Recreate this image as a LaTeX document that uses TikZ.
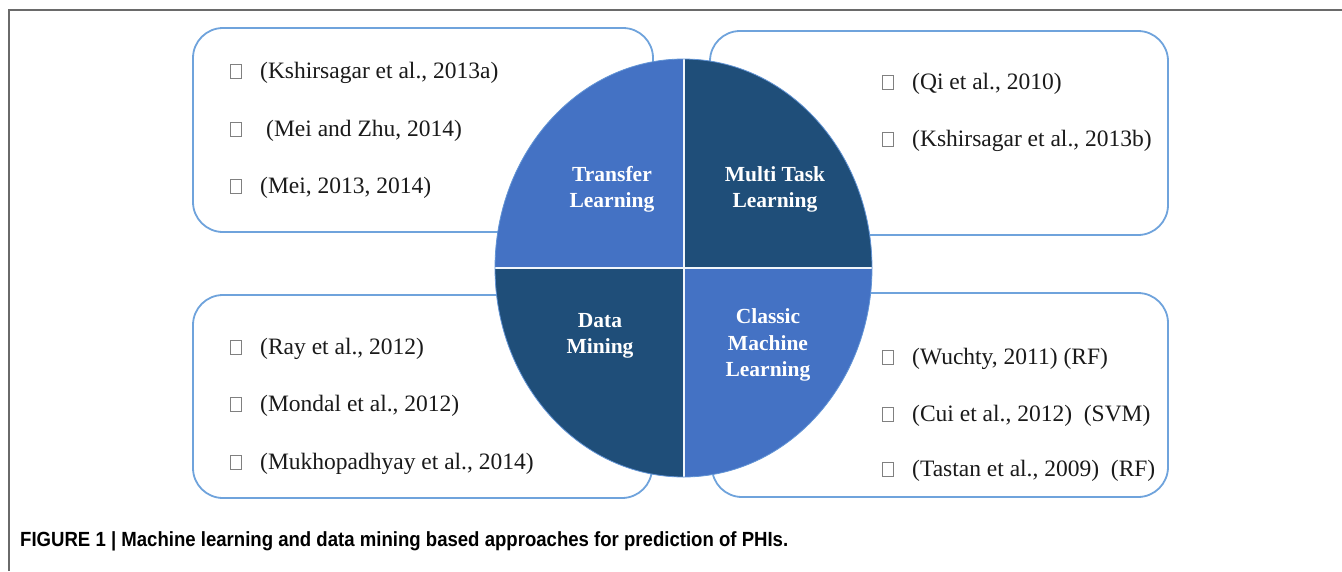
\documentclass[tikz,border=0pt]{standalone}
\usepackage{fontspec}
\usepackage{graphicx}
\setmainfont{Liberation Serif}
\newfontfamily\capfont{Liberation Sans}
\definecolor{boxline}{HTML}{6FA3DC}
\definecolor{lightq}{HTML}{4472C4}
\definecolor{darkq}{HTML}{1F4E79}
\definecolor{framegray}{HTML}{6A6A6A}
\definecolor{bulletgray}{HTML}{808080}
\definecolor{reftext}{HTML}{1A1A1A}
\begin{document}
\begin{tikzpicture}[x=1pt,y=-1pt,
  refbox/.style={draw=boxline,line width=1.8pt,fill=white,rounded corners=30pt,
    inner sep=0pt,outer sep=0pt},
  bulletbox/.style={draw=bulletgray,line width=0.8pt,minimum width=11pt,
    minimum height=14pt,inner sep=0pt},
  reftxt/.style={anchor=west,inner sep=0pt,text=reftext,
    font=\fontsize{23.5}{28}\selectfont},
  quadlbl/.style={align=center,text=white,inner sep=0pt,
    font=\fontsize{21.5}{26.5}\selectfont\bfseries},
]
\useasboundingbox (0,0) rectangle (1342,571);

% outer frame (top and left edges)
\draw[framegray,line width=1.4pt] (9,571) -- (9,10) -- (1342,10);

% reference boxes
\node[refbox,minimum width=460pt,minimum height=204pt] (boxTL) at (423,130) {};
\node[refbox,minimum width=458pt,minimum height=204pt] (boxTR) at (939,133) {};
\node[refbox,minimum width=459pt,minimum height=203pt] (boxBL) at (422.5,396.5) {};
\node[refbox,minimum width=456pt,minimum height=204pt] (boxBR) at (940,395) {};

% four-quadrant ellipse
\begin{scope}
  \clip (683.5,268) ellipse [x radius=188.5pt, y radius=209pt];
  \fill[lightq] (490,50) rectangle (683.5,268);
  \fill[darkq] (683.5,50) rectangle (880,268);
  \fill[darkq] (490,268) rectangle (683.5,490);
  \fill[lightq] (683.5,268) rectangle (880,490);
  \draw[white!90!boxline,line width=2pt] (683.5,50) -- (683.5,490);
  \draw[white!90!boxline,line width=2pt] (490,268) -- (880,268);
\end{scope}
\draw[boxline!70!lightq,line width=0.8pt] (683.5,268) ellipse [x radius=188.5pt, y radius=209pt];

% quadrant labels
\node[quadlbl] (qTL) at (612,189.5) {Transfer\\Learning};
\node[quadlbl] (qTR) at (775,189.5) {Multi Task\\Learning};
\node[quadlbl] (qBL) at (600,336) {Data\\Mining};
\node[quadlbl] (qBR) at (768,345) {Classic\\Machine\\Learning};

% top-left references
\node[bulletbox] (bTL1) at (236,71) {};
\node[bulletbox] (bTL2) at (236,129) {};
\node[bulletbox] (bTL3) at (236,186) {};
\node[reftxt] (tTL1) at (260,73) {(Kshirsagar et al., 2013a)};
\node[reftxt] (tTL2) at (266,131) {(Mei and Zhu, 2014)};
\node[reftxt] (tTL3) at (260,188) {(Mei, 2013, 2014)};

% top-right references
\node[bulletbox] (bTR1) at (888,82) {};
\node[bulletbox] (bTR2) at (888,139) {};
\node[reftxt] (tTR1) at (912,84) {(Qi et al., 2010)};
\node[reftxt] (tTR2) at (912,141) {(Kshirsagar et al., 2013b)};

% bottom-left references
\node[bulletbox] (bBL1) at (236,347) {};
\node[bulletbox] (bBL2) at (236,404) {};
\node[bulletbox] (bBL3) at (236,462) {};
\node[reftxt] (tBL1) at (260,349) {(Ray et al., 2012)};
\node[reftxt] (tBL2) at (260,406) {(Mondal et al., 2012)};
\node[reftxt] (tBL3) at (260,464) {(Mukhopadhyay et al., 2014)};

% bottom-right references
\node[bulletbox] (bBR1) at (888,357) {};
\node[bulletbox] (bBR2) at (888,414) {};
\node[bulletbox] (bBR3) at (888,469) {};
\node[reftxt] (tBR1) at (912,359) {(Wuchty, 2011) (RF)};
\node[reftxt] (tBR2) at (912,416) {(Cui et al., 2012)\ \ (SVM)};
\node[reftxt] (tBR3) at (912,471) {(Tastan et al., 2009)\ \ (RF)};

% caption
\node[anchor=west,inner sep=0pt] (caption) at (20,541)
  {\resizebox{768pt}{\height}{\capfont\fontsize{20.5}{22}\selectfont\bfseries
   FIGURE 1 | Machine learning and data mining based approaches for prediction of PHIs.}};
\end{tikzpicture}
\end{document}
